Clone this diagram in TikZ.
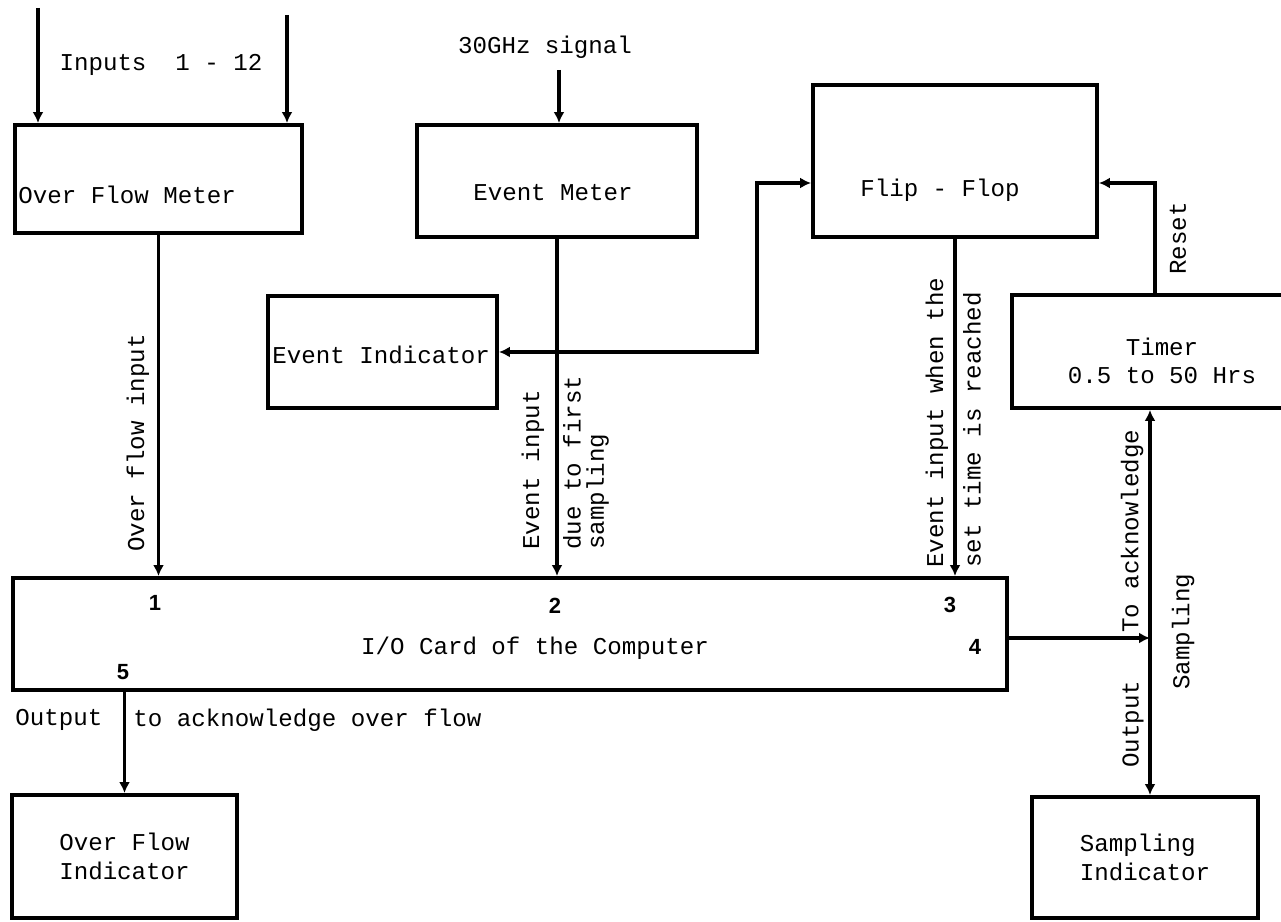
\documentclass[tikz,border=0pt]{standalone}
\usepackage{fontspec}
\setmainfont{Liberation Mono}
\newfontfamily\portfont{Liberation Sans}
\usetikzlibrary{arrows.meta}

\begin{document}
\begin{tikzpicture}[x=0.016cm, y=-0.016cm,
    font=\fontsize{11}{13}\selectfont,
    blockbox/.style={draw, line width=1.8pt, inner sep=0pt},
    wire/.style={line width=1.4pt},
    feed/.style={wire, -{Latex[length=5pt, width=5pt]}},
    twoway/.style={wire, {Latex[length=5pt, width=5pt]}-{Latex[length=5pt, width=5pt]}},
    portnum/.style={font=\portfont\bfseries\fontsize{10}{12}\selectfont, inner sep=0pt},
    vlabel/.style={rotate=90, anchor=west, inner sep=0pt}]
    \clip (0,0) rectangle (1281,922);

    % blocks
    \node[blockbox, minimum width=4.592cm, minimum height=1.728cm] (ofm) at (158.5,179) {};
    \node[anchor=west, inner sep=0pt] (ofm-txt) at (18,195) {Over Flow Meter};
    \node[blockbox, minimum width=4.48cm, minimum height=1.792cm] (evm) at (557,181) {};
    \node (evm-txt) at (553,193) {Event Meter};
    \node[blockbox, minimum width=4.544cm, minimum height=2.432cm] (ff) at (955,161) {};
    \node (ff-txt) at (940,190) {Flip - Flop};
    \node[blockbox, minimum width=3.664cm, minimum height=1.792cm] (ei) at (382.5,352) {};
    \node[anchor=west, inner sep=0pt] (ei-txt) at (272,355) {Event Indicator};
    \node[blockbox, minimum width=4.608cm, minimum height=1.808cm] (tmr) at (1156,351.5) {};
    \node[align=center, inner sep=0pt] (tmr-txt) at (1162,361) {Timer\\0.5 to 50 Hrs};
    \node[blockbox, minimum width=15.904cm, minimum height=1.792cm] (io) at (510,634) {};
    \node (io-txt) at (535,648) {I/O Card of the Computer};
    \node[blockbox, minimum width=3.6cm, minimum height=1.968cm, align=left] (ofi) at (124.5,856.5) {Over Flow\\Indicator};
    \node[blockbox, minimum width=3.616cm, minimum height=1.936cm, align=left] (si) at (1145,857.5) {Sampling\\Indicator};

    % inputs on top
    \coordinate (in1) at (38,8);
    \coordinate (in12) at (287,15);
    \coordinate (ghz) at (559,70);
    \draw[feed] (in1) -- (in1 |- ofm.north);
    \draw[feed] (in12) -- (in12 |- ofm.north);
    \node (inputs) at (161,65) {Inputs~~1 - 12};
    \draw[feed] (ghz) -- (ghz |- evm.north);
    \node (ghz-txt) at (545,47) {30GHz signal};

    % lines into the I/O card
    \draw[feed] (ofm.south) -- (ofm.south |- io.north);
    \draw[feed] (evm.south) -- (evm.south |- io.north);
    \draw[feed] (ff.south) -- (ff.south |- io.north);
    \coordinate (jn) at (evm.south |- ei.east);
    \draw[feed] (jn) -- (ei.east);
    \draw[feed] (jn) -- ++(200,0) |- (ff.west |- 0,183);
    \draw[feed] (tmr.north -| 1155,0) |- (ff.east |- 0,183);

    % port 4 and 5
    \coordinate (j4) at (1150,638);
    \draw[feed] (io.east |- j4) -- (j4);
    \draw[twoway] (tmr.south -| j4) -- (si.north -| j4);
    \draw[feed] (ofi.north |- io.south) -- (ofi.north);

    % port numbers
    \node[portnum] (p1) at (155,603) {1};
    \node[portnum] (p2) at (555,606) {2};
    \node[portnum] (p3) at (950,605) {3};
    \node[portnum] (p4) at (975,647) {4};
    \node[portnum] (p5) at (123,672) {5};

    % labels
    \node[vlabel] (l-ofi) at (138,552) {Over flow input};
    \node[vlabel] (l-ev1) at (533,550) {Event input};
    \node[vlabel, align=left, font=\fontsize{11}{10.5}\selectfont] (l-ev2) at (586,550) {due to first\\sampling};
    \node[vlabel] (l-set1) at (937,568) {Event input when the};
    \node[vlabel] (l-set2) at (972,568) {set time is reached};
    \node[vlabel] (l-reset) at (1178,275) {Reset};
    \node[vlabel] (l-ack) at (1132,633) {To acknowledge};
    \node[vlabel] (l-samp) at (1183,690) {Sampling};
    \node[vlabel] (l-out) at (1133,768) {Output};
    \node[anchor=west, inner sep=0pt] (l-out5) at (15,720) {Output};
    \node[anchor=west, inner sep=0pt] (l-ack5) at (133,720) {to acknowledge over flow};
\end{tikzpicture}
\end{document}
